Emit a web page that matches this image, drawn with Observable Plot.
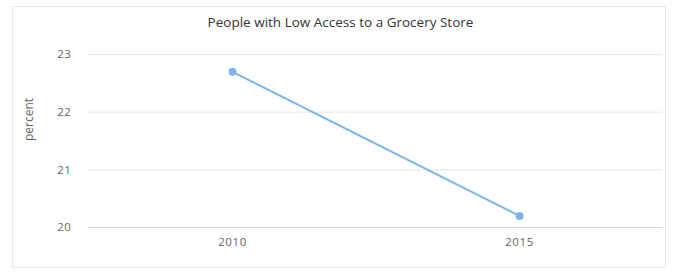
<!DOCTYPE html>
<html>
<head>
<meta charset="utf-8">
<script src="https://cdn.jsdelivr.net/npm/d3@7"></script>
<script src="https://cdn.jsdelivr.net/npm/@observablehq/plot@0.6"></script>
<style>
  html, body { margin: 0; padding: 0; background: #fff; }
  #wrap { position: relative; width: 681px; height: 279px; overflow: hidden; }
  #box { position: absolute; left: 12px; top: 6px; width: 654px; height: 262px; border: 1px solid #e4ebe4; box-sizing: border-box; pointer-events: none; }
  #title { position: absolute; left: 0; width: 681px; top: 13px; text-align: center; font-family: "Open Sans", sans-serif; font-size: 13.5px; color: #333; }
  #chart { position: absolute; left: 0; top: 0; }
</style>
</head>
<body>
<div id="wrap">
  <div id="box"></div>
  <div id="title">People with Low Access to a Grocery Store</div>
  <div id="chart"></div>
</div>
<script>
const years = ["2010", "2015"];
const percentValues = [22.7, 20.2];
const yTicks = [20, 21, 22, 23];

const data = years.map((y, i) => ({year: y, value: percentValues[i]}));

const plot = Plot.plot({
  width: 681,
  height: 279,
  marginLeft: 88,
  marginRight: 19,
  marginTop: 54,
  marginBottom: 52,
  style: {fontFamily: "Open Sans, sans-serif", fontSize: "11.5px", background: "transparent", overflow: "visible"},
  x: {type: "point", domain: years, padding: 0.5, label: null, tickSize: 0, tickPadding: 10},
  y: {domain: [20, 23], ticks: yTicks, label: null, tickSize: 0},
  marks: [
    Plot.ruleY(yTicks.filter(t => t !== 20), {stroke: "#e6e6e6", strokeWidth: 1, strokeOpacity: 1}),
    Plot.ruleY([20], {stroke: "#ccd6eb", strokeWidth: 1}),
    Plot.axisY({ticks: yTicks, tickFormat: "d", tickSize: 0, tickPadding: 17, fill: "#666", fontSize: 11.5, label: null}),
    Plot.axisX({tickSize: 0, tickPadding: 10, fill: "#666", fontSize: 11.5, label: null}),
    Plot.text(["percent"], {frameAnchor: "left", dx: -59, rotate: -90, fill: "#666", fontSize: 12}),
    Plot.line(data, {x: "year", y: "value", stroke: "#7cb5ec", strokeWidth: 2}),
    Plot.dot(data, {x: "year", y: "value", fill: "#7cb5ec", r: 4, stroke: null})
  ]
});
plot.querySelectorAll("g[aria-label='x-axis tick label'] text, g[aria-label='y-axis tick label'] text").forEach(t => t.setAttribute("letter-spacing", "0.6"));
document.getElementById("chart").appendChild(plot);
</script>
</body>
</html>
